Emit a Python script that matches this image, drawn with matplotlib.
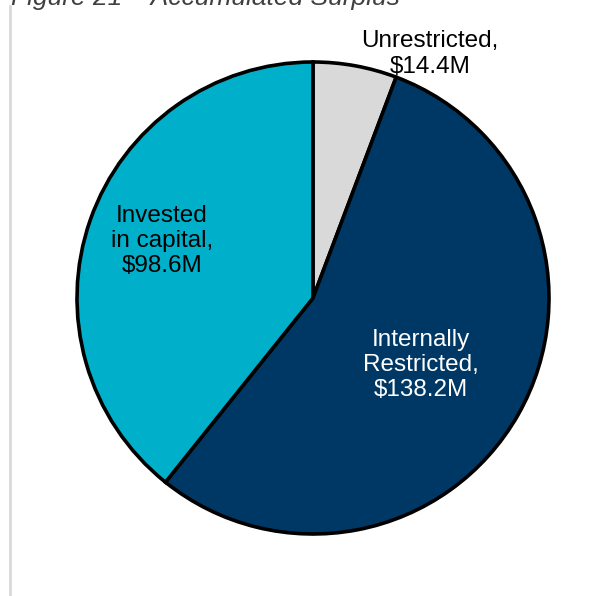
import matplotlib
matplotlib.use("Agg")
import matplotlib.pyplot as plt
from matplotlib.lines import Line2D

plt.rcParams['font.family'] = ['Liberation Sans', 'DejaVu Sans']

# Accumulated surplus components ($M)
categories = ["Unrestricted", "Internally\nRestricted", "Invested\nin capital"]
values = [14.4, 138.2, 98.6]
colors = ["#D9D9D9", "#003865", "#00B0CB"]
label_colors = ["black", "white", "black"]

W, H = 607, 596
fig = plt.figure(figsize=(W / 100, H / 100), dpi=100)
fig.patch.set_facecolor("white")

# Pie axes: centre (313, 298) px, radius 236 px
cx, cy, r = 313, 298, 236
ax = fig.add_axes([(cx - r) / W, (H - cy - r) / H, 2 * r / W, 2 * r / H])
ax.pie(values, colors=colors, startangle=90, counterclock=False, radius=1.0,
       wedgeprops=dict(edgecolor="black", linewidth=2.6))
ax.set_xlim(-1, 1)
ax.set_ylim(-1, 1)
ax.set_aspect("equal")
ax.axis("off")

# label centres, in pixels from the top-left corner
label_px = [(430, 54), (421, 365), (162, 241)]
for cat, val, col, (px, py) in zip(categories, values, label_colors, label_px):
    ax.text((px - cx) / r, (cy - py) / r, f"{cat},\n${val}M", ha="center",
            va="center", color=col, fontsize=17.5, linespacing=1.2, clip_on=False)

# Title (top edge of the page cuts it off)
fig.text(11 / W, 1 - 5 / H, "Figure 21 \u2013 Accumulated Surplus", ha="left",
         va="baseline", fontsize=19, style="italic", color="#404040")

# Left border rule
fig.add_artist(Line2D([9.5 / W, 9.5 / W], [0, 1 - 6 / H], transform=fig.transFigure,
                      color="#D9D9D9", linewidth=2))

fig.savefig("out.png", dpi=100)
